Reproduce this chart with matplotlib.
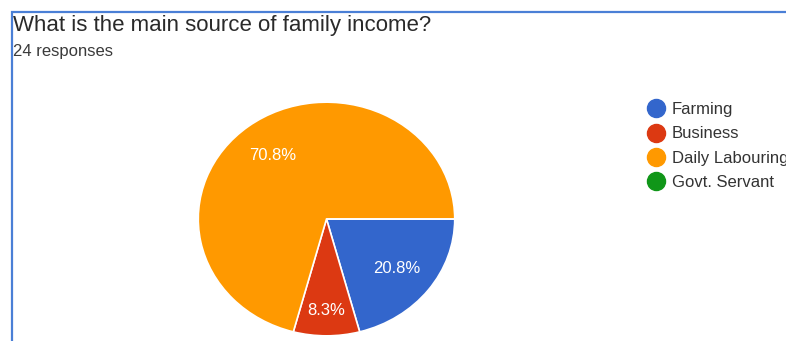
import matplotlib.pyplot as plt
from matplotlib.patches import Rectangle
from matplotlib.lines import Line2D

plt.rcParams['font.family'] = ['Liberation Sans', 'DejaVu Sans']

title = 'What is the main source of family income?'
subtitle = '24 responses'
categories = ['Farming', 'Business', 'Daily Labouring', 'Govt. Servant']
counts = [5, 2, 17, 0]
colors = ['#3366CC', '#DC3912', '#FF9900', '#109618']

W, H = 786, 341
fig = plt.figure(figsize=(W / 100, H / 100), dpi=100)

# card border (blue), runs off the right and bottom edges
fig.patches.append(Rectangle((12 / W, -0.1), 1.0, (H - 12) / H + 0.1,
                             transform=fig.transFigure, fill=False,
                             edgecolor='#4a7fd6', linewidth=1.6))

fig.text(13 / W, 1 - 31.5 / H, title, fontsize=16, color='#2a2a2a')
fig.text(13 / W, 1 - 56 / H, subtitle, fontsize=12, color='#3a3a3a')

# pie axes, not equal aspect so the pie is a bit wider than tall
ax = fig.add_axes([197 / W, 4 / H, 259 / W, 236 / H])
wedges, texts, pcts = ax.pie(
    counts, colors=colors, startangle=0, counterclock=False,
    autopct=lambda p: f'{p:.1f}%' if p > 0 else '',
    pctdistance=0.69, radius=1,
    wedgeprops=dict(edgecolor='white', linewidth=1.2),
    textprops=dict(color='white', fontsize=12))
ax.set_xlim(-1.01, 1.01)
ax.set_ylim(-1.01, 1.01)
ax.set_aspect('auto')
ax.axis('off')

# small slice label sits further out
x, y = pcts[1].get_position()
pcts[1].set_position((x * 1.14, y * 1.14))

handles = [Line2D([], [], marker='o', linestyle='none', markersize=13,
                  markerfacecolor=c, markeredgecolor=c) for c in colors]
fig.legend(handles, categories, loc='upper left',
           bbox_to_anchor=(646 / W, 1 - 102 / H), frameon=False,
           fontsize=12, labelcolor='#333333', handletextpad=0.35,
           labelspacing=0.56, handlelength=1.2, borderaxespad=0,
           borderpad=0)

fig.savefig('out.png', dpi=100)
